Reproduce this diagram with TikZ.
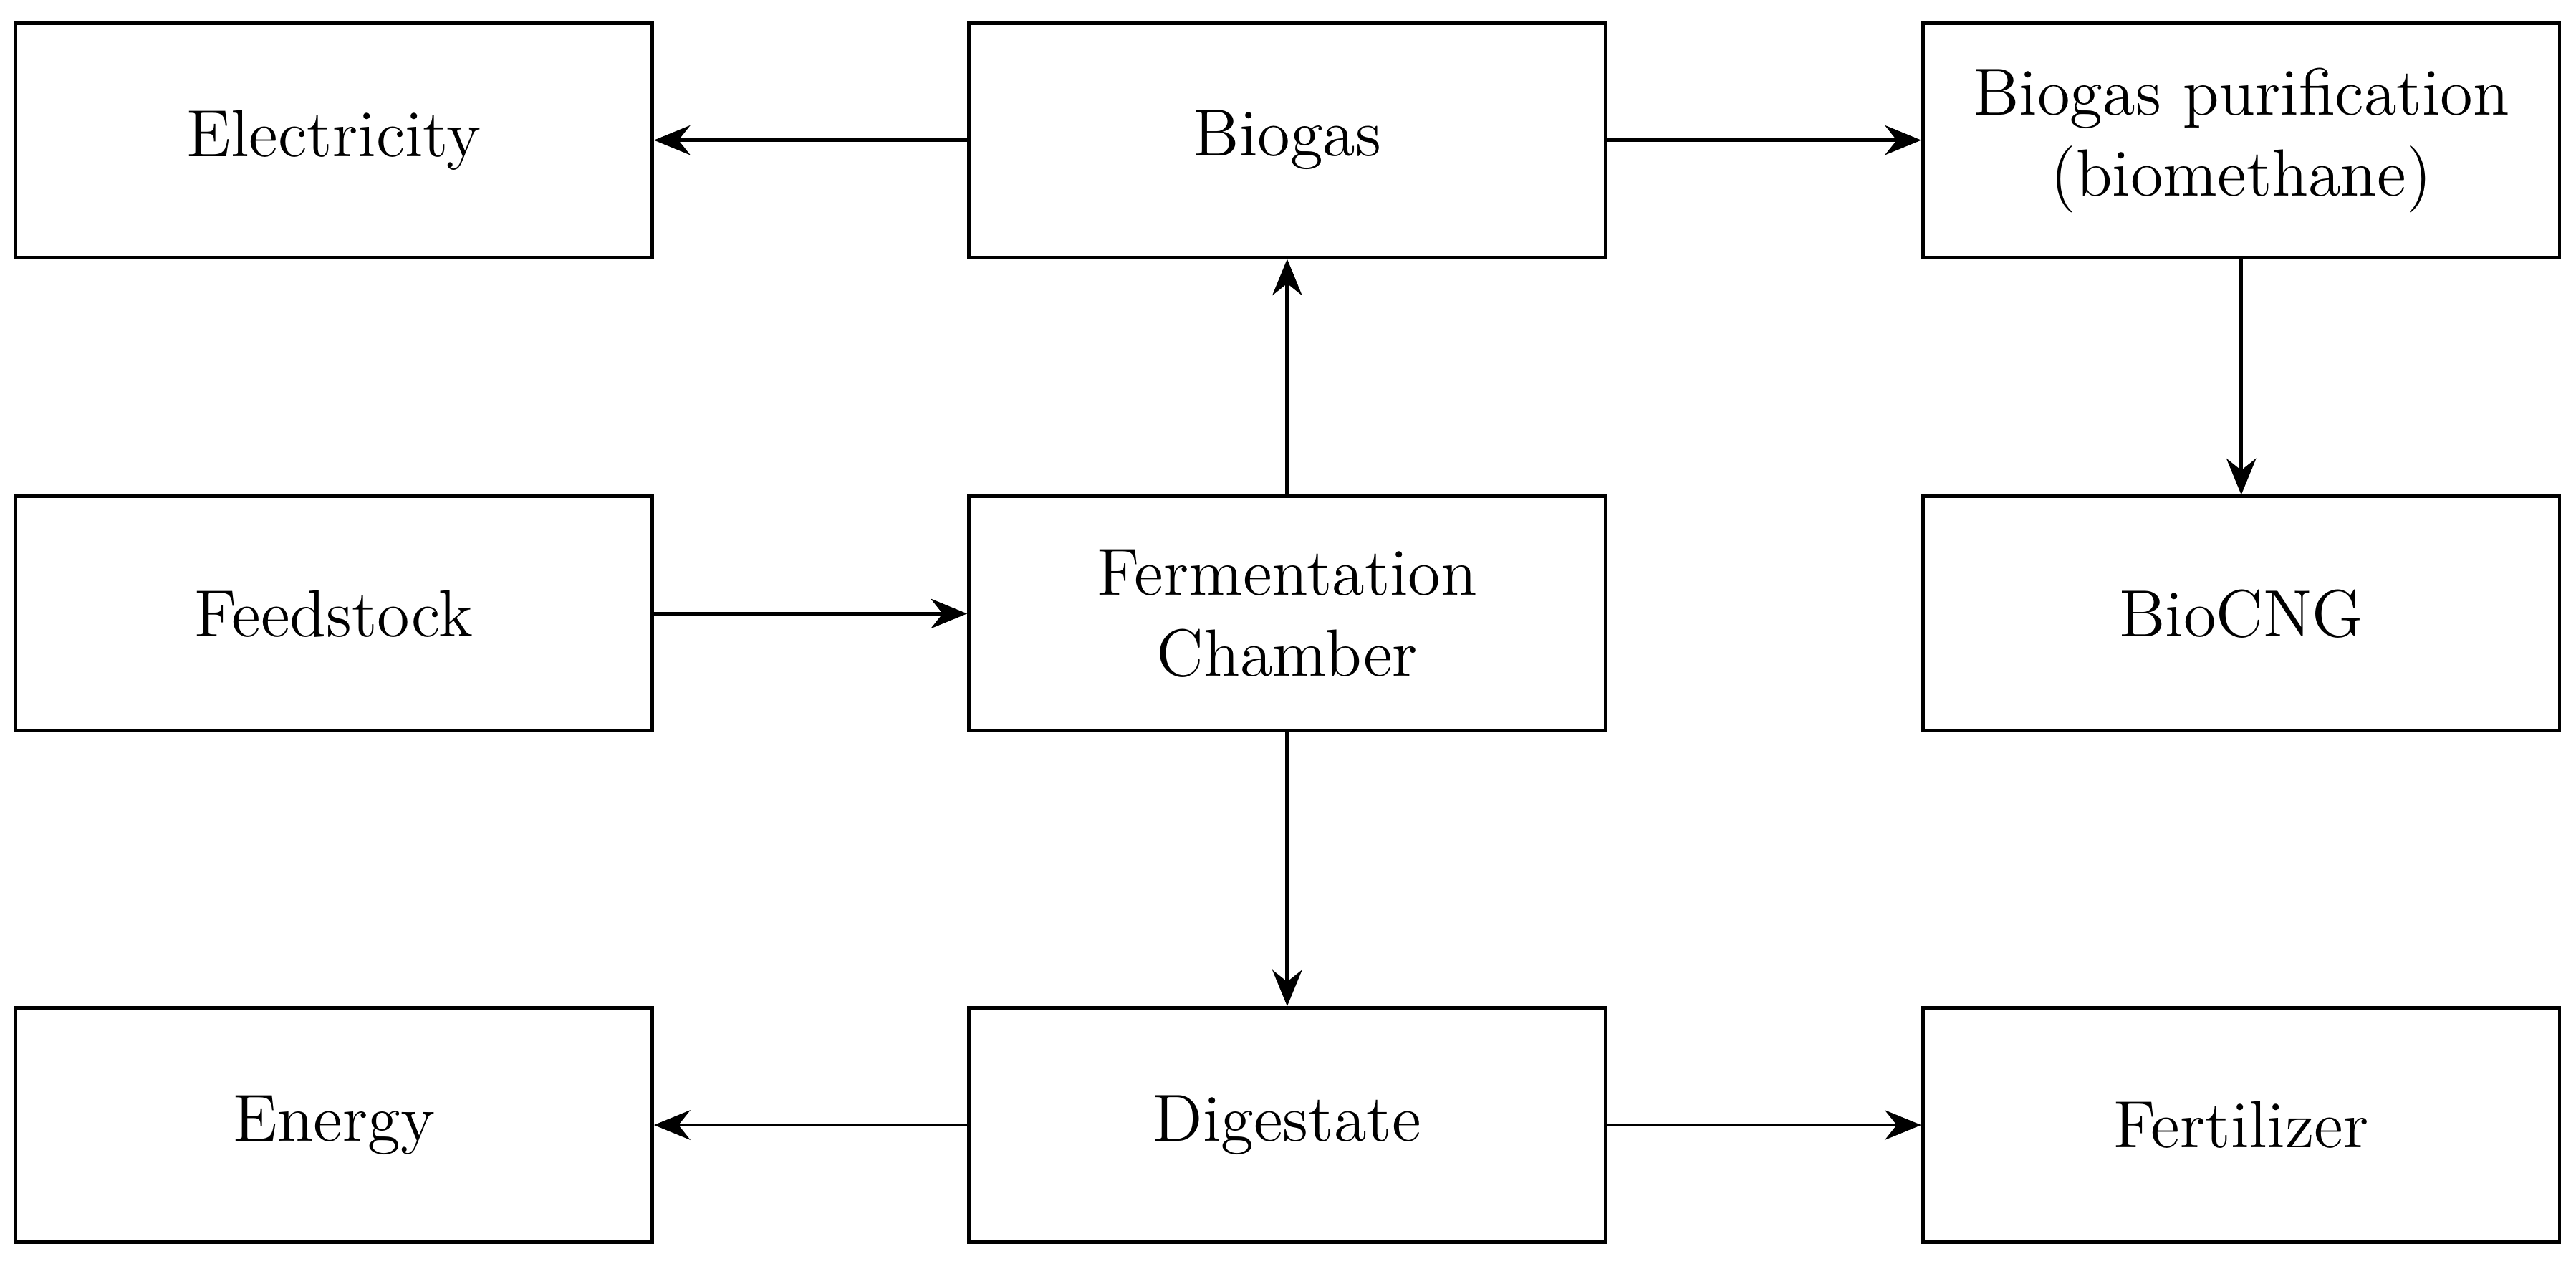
\documentclass[tikz,border=0pt]{standalone}
\usetikzlibrary{arrows.meta}
\begin{document}
\begin{tikzpicture}[
    font=\fontsize{11.5}{14}\selectfont,
    box/.style={draw=black, line width=0.6pt, rectangle, minimum width=3.86cm, minimum height=1.42cm, align=center},
    arrow/.style={-{Stealth[length=2.2mm,width=1.8mm]}, line width=0.6pt, black}
]
\useasboundingbox (0,0) rectangle (15.62,7.66);

% Top row
\node[box] (elec)   at (2.025,6.81) {Electricity};
\node[box] (biogas) at (7.805,6.81) {Biogas};
\node[box] (purif)  at (13.59,6.81) {Biogas purification\\(biomethane)};

% Middle row
\node[box] (feed)   at (2.025,3.94) {Feedstock};
\node[box] (ferm)   at (7.805,3.94) {Fermentation\\Chamber};
\node[box] (cng)    at (13.59,3.94) {BioCNG};

% Bottom row
\node[box] (energy) at (2.025,0.84) {Energy};
\node[box] (dig)    at (7.805,0.84) {Digestate};
\node[box] (fert)   at (13.59,0.84) {Fertilizer};

% Arrows
\draw[arrow] (biogas) -- (elec);
\draw[arrow] (biogas) -- (purif);
\draw[arrow] (purif) -- (cng);
\draw[arrow] (ferm) -- (biogas);
\draw[arrow] (feed) -- (ferm);
\draw[arrow] (ferm) -- (dig);
\draw[arrow] (dig) -- (energy);
\draw[arrow] (dig) -- (fert);

\end{tikzpicture}
\end{document}
